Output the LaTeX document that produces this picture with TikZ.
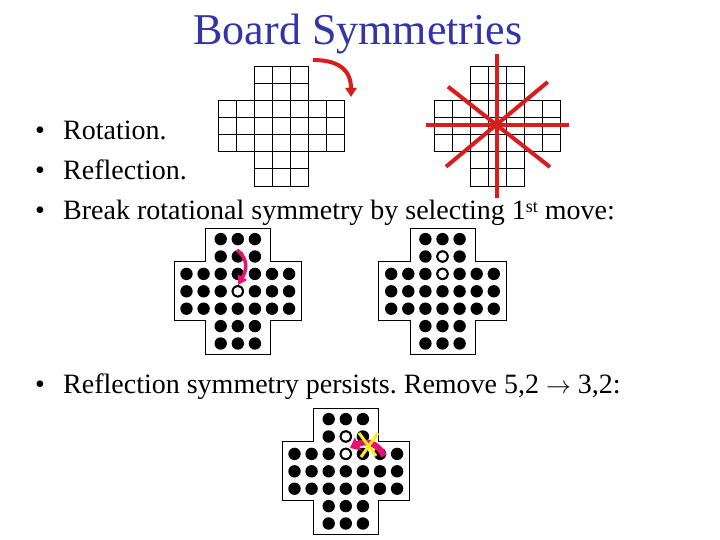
\documentclass[tikz,border=0pt]{standalone}
\usepackage{fontspec}
\setmainfont{Liberation Serif}
\usetikzlibrary{arrows.meta}
\definecolor{titleblue}{RGB}{51,51,170}
\definecolor{symred}{RGB}{218,28,28}
\definecolor{pinkarr}{RGB}{235,15,110}
\definecolor{xyellow}{RGB}{250,240,20}
\frenchspacing
\newcommand\emptygrid[4]{%
  \foreach \i in {0,...,6}{\foreach \j in {0,...,6}{%
    \pgfmathtruncatemacro\inc{or(and(\i>1,\i<5),and(\j>1,\j<5))}%
    \ifnum\inc=1
      \draw[gridline] ({#1+\i*#3},{#2+\j*#4}) rectangle ++(#3,#4);
    \fi}}}
\newcommand\pegboard[2]{%
  \begin{scope}[shift={(#1,#2)}]
    \draw[boardline] (-32.5,-63) -- (32.5,-63) -- (32.5,-29.5) -- (63.8,-29.5) -- (63.8,29.5) -- (32.5,29.5) -- (32.5,63) -- (-32.5,63) -- (-32.5,29.5) -- (-63.8,29.5) -- (-63.8,-29.5) -- (-32.5,-29.5) -- cycle;
    \foreach \i in {1,...,7}{\foreach \j in {1,...,7}{%
      \pgfmathtruncatemacro\inc{or(and(\i>2,\i<6),and(\j>2,\j<6))}%
      \ifnum\inc=1
        \fill[peg] ({(\i-4)*17.1},{(\j-4)*17.4}) circle (6.2);
      \fi}}
  \end{scope}}
\newcommand\holeat[4]{\draw[hole] ({#1+(#3-4)*17.1},{#2+(#4-4)*17.4}) circle (5.3);}
\begin{document}
\begin{tikzpicture}[x=1pt,y=-1pt,
  txt/.style={anchor=base west, inner sep=0, font=\fontsize{28}{34}\selectfont},
  bul/.style={anchor=base, inner sep=0, font=\fontsize{28}{34}\selectfont},
  gridline/.style={draw=black, line width=0.9pt},
  boardline/.style={draw=black, line width=0.9pt, fill=white},
  peg/.style={fill=black},
  hole/.style={draw=black, fill=white, line width=1.8pt},
  symline/.style={draw=symred, line width=4pt},
  ]
\fill[white] (0,0) rectangle (720,540);
\useasboundingbox (0,0) rectangle (720,540);

\node[anchor=base, inner sep=0, font=\fontsize{44}{50}\selectfont, text=titleblue] (title) at (358,45) {Board Symmetries};

% bullets
\node[bul] (b1) at (40,140) {•};
\node[txt] (t1) at (63,140) {Rotation.};
\node[bul] (b2) at (40,180) {•};
\node[txt] (t2) at (63,180) {Reflection.};
\node[bul] (b3) at (40,219) {•};
\node[txt] (t3) at (63,219) {Break rotational symmetry by selecting 1{\fontsize{18}{20}\selectfont\raisebox{7pt}{st}} move:};
\node[bul] (b4) at (40,393) {•};
\node[txt] (t4) at (63,393) {Reflection symmetry persists. Remove 5,2 $\rightarrow$ 3,2:};

% empty grids
\emptygrid{218.3}{66}{18}{17.14}
\emptygrid{434.3}{66}{17.96}{17.14}

% rotation arrow
\draw[symred, line width=4pt, -{Triangle[length=9pt,width=11pt]}] (313,60) .. controls (336,60) and (351,68) .. (351,97);

% reflection lines
\coordinate (c) at (497,125);
\draw[symline] (497,54) -- (497,198);
\draw[symline] (426,124.7) -- (569,124.7);
\draw[symline] (448,86.7) -- (550,167);
\draw[symline] (547.7,82) -- (446,166.7);

% peg boards
\pegboard{237.8}{291.3}
\holeat{237.8}{291.3}{4}{4}
\draw[pinkarr, line width=3.5pt, -{Triangle[length=9pt,width=10pt]}] (237,250) .. controls (247,258) and (248,268) .. (238,285);

\pegboard{442.5}{291.3}
\holeat{442.5}{291.3}{4}{2}
\holeat{442.5}{291.3}{4}{3}

\pegboard{345.8}{471.3}
\holeat{345.8}{471.3}{4}{2}
\holeat{345.8}{471.3}{4}{3}
\draw[pinkarr, line width=6pt, -{Triangle[length=9pt,width=14pt]}] (384,456) .. controls (378,443) and (366,440) .. (350,448);
\draw[xyellow, line width=3pt] (359,433) -- (376,456);
\draw[xyellow, line width=3pt] (378,433) -- (361,457);
\end{tikzpicture}
\end{document}
